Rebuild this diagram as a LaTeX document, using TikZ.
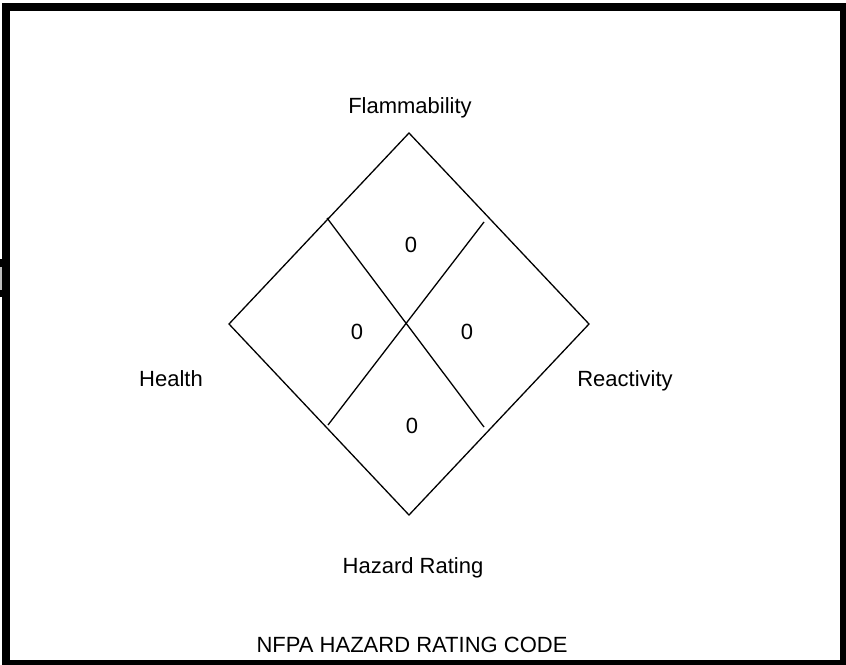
\documentclass[tikz,border=0pt]{standalone}
\usepackage{fontspec}
\setmainfont{Liberation Sans}
\usetikzlibrary{calc}
\usetikzlibrary{positioning}
\definecolor{tab-gray}{RGB}{190, 190, 190}

\begin{document}
\begin{tikzpicture}[x=1pt,y=-1pt,
  label text/.style={font=\fontsize{22}{26}\selectfont, inner sep=0pt, anchor=base},
  rating/.style={font=\fontsize{22}{26}\selectfont, inner sep=0pt}]
\useasboundingbox (0,0) rectangle (846,664);
            \draw[line width=8pt] (6,7) rectangle (844,664);
\fill[black] (0,259) rectangle (10,297);
\fill[tab-gray] (0,267) rectangle (2.4,290);
% diamond corners
\coordinate (top) at (409,133);
\coordinate (left) at (229,324);
\coordinate (right) at (589,324);
\coordinate (bottom) at (409,515);
\draw[line width=1.3pt] (top) -- (right) -- (bottom) -- (left) -- cycle;
% dividers
\coordinate (divA) at (327,218);
\coordinate (divB) at (484,427);
\coordinate (divC) at (484,222);
\coordinate (divD) at (328,425);
\draw[line width=1.3pt] (divA) -- (divB);
\draw[line width=1.3pt] (divC) -- (divD);
% ratings
\node[rating] (flam-val) at (411,245) {0};
\node[rating] (health-val) at (357,332) {0};
\node[rating] (react-val) at (467,332) {0};
\node[rating] (haz-val) at (412,426) {0};
% labels
\node[label text] (flam) at (410,113) {Flammability};
\node[label text] (health) at (171,386) {Health};
\node[label text] (react) at (625,386) {Reactivity};
\node[label text] (hazard) at (413,573) {Hazard Rating};
\node[label text] (title) at (412,652) {NFPA HAZARD RATING CODE};
        \end{tikzpicture}
\end{document}
